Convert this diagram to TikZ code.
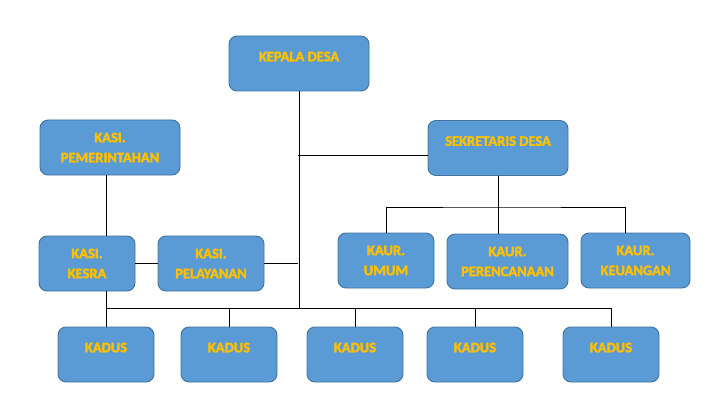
\documentclass[tikz,border=0pt]{standalone}
\usepackage{fontspec}
\setmainfont{Carlito}[BoldFont={Carlito Bold}, BoldFeatures={FakeBold=2.5}]
\usepackage{tikz}
\definecolor{BoxBlue}{HTML}{5B9BD5}
\definecolor{BoxEdge}{HTML}{41719C}
\definecolor{BoxText}{HTML}{FFC000}

\begin{document}
\begin{tikzpicture}[x=1pt,y=-1pt,
    box/.style={draw=BoxEdge, fill=BoxBlue, text=BoxText, rounded corners=8pt, line width=0.9pt,
                minimum height=55pt, align=center, inner sep=2pt,
                font=\fontsize{14.5}{20}\selectfont\bfseries},
    single/.style={text depth=14pt},
    conn/.style={black, line width=1pt}]
    \useasboundingbox (0,0) rectangle (724,420);
%                    Kepala dan sekretaris
    \node[box, single, minimum width=140pt] (kades) at (299,63.5) {KEPALA DESA};
    \node[box, single, minimum width=140pt] (sekdes) at (498,148) {SEKRETARIS DESA};
    \node[box, minimum width=140pt] (pemerintahan) at (110,147.5) {KASI.\\PEMERINTAHAN};
%                    Kasi
    \node[box, minimum width=96pt] (kesra) at (87,263.5) {KASI.\\KESRA};
    \node[box, minimum width=106pt] (pelayanan) at (211,263.5) {KASI.\\PELAYANAN};
%                    Kaur
    \node[box, minimum width=96pt] (umum) at (386,260.5) {KAUR.\\UMUM};
    \node[box, minimum width=121pt] (perencanaan) at (507.5,261.5) {KAUR.\\PERENCANAAN};
    \node[box, minimum width=109pt] (keuangan) at (635.5,260.5) {KAUR.\\KEUANGAN};
%                    Kadus
    \foreach \n/\x in {1/106,2/229,3/355,4/475,5/611} {
        \node[box, single, minimum width=96pt] (kadus\n) at (\x,354.5) {KADUS};
    }

    \coordinate (hub) at (298,308);
    \coordinate (jsek) at (298,156);
    \coordinate (kbus) at (498,207);

    \draw[conn] (kades.south) -- (kades.south |- hub);
    \draw[conn] (jsek) -- (jsek -| sekdes.west);
    \draw[conn] (sekdes.south) -- (sekdes.south |- perencanaan.north);
    \draw[conn] (umum.north) |- (kbus) -| ([xshift=-10pt]keuangan.north);
    \draw[conn] (kadus1.north |- pemerintahan.south) -- (kadus1.north |- kesra.north);
    \draw[conn] (kadus1.north |- kesra.south) -- (kadus1.north);
    \draw[conn] (kesra.east) -- (pelayanan.west);
    \draw[conn] (pelayanan.east) -- (pelayanan.east -| hub);
    \draw[conn] (kadus1.north |- hub) -- (kadus5.north |- hub);
    \foreach \n in {2,...,5} {
        \draw[conn] (kadus\n.north) -- (kadus\n.north |- hub);
    }
\end{tikzpicture}
\end{document}
